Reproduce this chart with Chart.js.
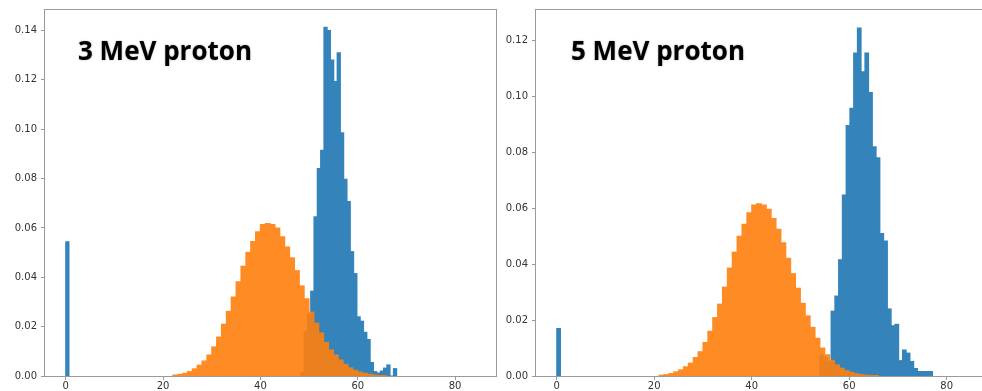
<!DOCTYPE html>
<html><head><meta charset="utf-8">
<script src="https://cdn.jsdelivr.net/npm/chart.js@4"></script>
<style>
html,body{margin:0;padding:0;background:#fff;overflow:hidden;width:982px;height:391px;position:relative;}
canvas{position:absolute;top:0;}
#c1{left:0;}
#c2{left:490px;}
</style></head><body>
<canvas id="c1" width="500" height="391"></canvas>
<canvas id="c2" width="510" height="391"></canvas>
<script>
// ---- shared axis data ----
const xTicks = [0, 20, 40, 60, 80];
const xRange = [-4.25, 88.4];

// ---- left panel: 3 MeV proton ----
const leftTitle = '3 MeV proton';
const leftYTicks = [0, 0.02, 0.04, 0.06, 0.08, 0.10, 0.12, 0.14];
const leftYMax = 0.1483;
const leftBlueBinWidth = 0.68;
const leftBlueZeroBin = 0.0544;          // bin 0
const leftBlueFirstBin = 71;             // bins 71..99
const leftBlue = [0.0015, 0.018, 0.025, 0.0344, 0.0645, 0.0841, 0.0915, 0.1413, 0.1400, 0.1280,
                  0.1193, 0.1310, 0.0986, 0.0797, 0.0707, 0.0504, 0.0415, 0.0240, 0.0222, 0.0177,
                  0.0148, 0.0055, 0.0018, 0.0012, 0.0020, 0.0032, 0.0045, 0, 0.0030];
const leftOrangeFirstBin = 22;           // 1-unit bins from 22
const leftOrange = [0.0004, 0.0007, 0.0011, 0.0018, 0.0029, 0.0044, 0.0061, 0.0085, 0.0118, 0.0158,
                    0.0210, 0.0262, 0.0320, 0.0382, 0.0445, 0.0501, 0.0545, 0.0584, 0.0614, 0.0618,
                    0.0614, 0.0600, 0.0564, 0.0523, 0.0479, 0.0427, 0.0365, 0.0313, 0.0259, 0.0214,
                    0.0175, 0.0136, 0.0106, 0.0085, 0.0065, 0.0047, 0.0033, 0.0023, 0.0016, 0.0011,
                    0.0007, 0.0004, 0.0002, 0.0001];

// ---- right panel: 5 MeV proton ----
const rightTitle = '5 MeV proton';
const rightYTicks = [0, 0.02, 0.04, 0.06, 0.08, 0.10, 0.12];
const rightYMax = 0.1309;
const rightBlueBinWidth = 0.771;
const rightBlueZeroBin = 0.0170;         // bin 0
const rightBlueFirstBin = 70;            // bins 70..99
const rightBlue = [0.0075, 0.0065, 0.0052, 0.0232, 0.0286, 0.0416, 0.0647, 0.0896, 0.0958, 0.1155,
                   0.1245, 0.1088, 0.1155, 0.1014, 0.0820, 0.0781, 0.0510, 0.0483, 0.0240, 0.0180,
                   0.0185, 0.0055, 0.0093, 0.0082, 0.0052, 0.0027, 0.0016, 0.0016, 0.0016, 0.0016];
const rightOrangeFirstBin = 21;
const rightOrange = [0.0003, 0.0005, 0.0009, 0.0015, 0.0022, 0.0033, 0.0046, 0.0066, 0.0087, 0.0120,
                     0.0160, 0.0209, 0.0257, 0.0318, 0.0386, 0.0443, 0.0500, 0.0543, 0.0584, 0.0612,
                     0.0616, 0.0612, 0.0596, 0.0563, 0.0525, 0.0477, 0.0421, 0.0366, 0.0314, 0.0260,
                     0.0215, 0.0174, 0.0135, 0.0100, 0.0076, 0.0056, 0.0040, 0.0028, 0.0019, 0.0013,
                     0.0008, 0.0005, 0.0003, 0.0002, 0.0001];

Chart.defaults.font.family = '"DejaVu Sans", sans-serif';
Chart.defaults.font.size = 10;
Chart.defaults.color = '#333';

// Each histogram is drawn opaque on its own layer, then composited at alpha 0.9
// (like matplotlib's alpha), so adjacent bins show no seams.
const layerPlugin = {
  id: 'layer',
  beforeDatasetDraw(chart, args) {
    const ctrl = args.meta.controller;
    if (!chart.$layer) chart.$layer = document.createElement('canvas');
    const L = chart.$layer;
    L.width = chart.canvas.width; L.height = chart.canvas.height;
    const lctx = L.getContext('2d');
    lctx.clearRect(0, 0, L.width, L.height);
    ctrl.$origCtx = ctrl._ctx;
    ctrl._ctx = lctx;
  },
  afterDatasetDraw(chart, args) {
    const ctrl = args.meta.controller;
    ctrl._ctx = ctrl.$origCtx;
    const ctx = chart.ctx;
    ctx.save();
    ctx.setTransform(1, 0, 0, 1, 0, 0);
    ctx.globalAlpha = 0.9;
    ctx.drawImage(chart.$layer, 0, 0);
    ctx.restore();
  }
};

const framePlugin = {
  id: 'frame',
  afterDatasetsDraw(chart, args, opts) {
    const {ctx, chartArea: a} = chart;
    ctx.save();
    ctx.strokeStyle = '#9a9a9a';
    ctx.lineWidth = 1;
    ctx.strokeRect(Math.round(a.left) - 0.5, Math.round(a.top) - 0.5,
                   Math.round(a.right - a.left) + 1, Math.round(a.bottom - a.top) + 1);
    ctx.font = 'bold 26px "Open Sans"';
    ctx.fillStyle = '#000';
    ctx.textBaseline = 'alphabetic';
    ctx.shadowColor = 'rgba(0,0,0,0.35)';
    ctx.shadowBlur = 2;
    ctx.fillText(opts.title, a.left + opts.dx, a.top + opts.dy);
    ctx.restore();
  }
};

function buildChart(id, p) {
  const blueData = [{x: 0.5 * p.blueW, y: p.blueZero}].concat(
    p.blue.map((v, i) => ({x: (p.blueFirst + i + 0.5) * p.blueW, y: v})));
  const orangeData = p.orange.map((v, i) => ({x: p.orangeFirst + i + 0.5, y: v}));
  const tickGrid = {display: true, drawOnChartArea: false, drawTicks: true, tickLength: 4, color: '#9a9a9a', offset: false};
  new Chart(document.getElementById(id), {
    type: 'bar',
    data: {datasets: [
      {data: blueData, xAxisID: 'x', yAxisID: 'y', backgroundColor: '#1f77b4', order: 2,
       barPercentage: 1, categoryPercentage: 1, borderWidth: 0, grouped: false, inflateAmount: 0.5},
      {data: orangeData, xAxisID: 'x2', yAxisID: 'y', backgroundColor: '#ff7f0e', order: 1,
       barPercentage: 1, categoryPercentage: 1, borderWidth: 0, grouped: false, inflateAmount: 0.5}
    ]},
    options: {
      responsive: false, animation: false, events: [],
      layout: {padding: {top: 6, right: p.padRight, left: 0, bottom: 0}},
      plugins: {legend: {display: false}, tooltip: {enabled: false},
                frame: {title: p.title, dx: p.textDx, dy: 50}},
      scales: {
        x: {type: 'linear', min: xRange[0], max: xRange[1], offset: false,
            afterBuildTicks: s => { s.ticks = xTicks.map(v => ({value: v})); },
            afterFit: s => { s.height = 15; },
            grid: tickGrid, border: {display: false},
            ticks: {padding: 0, maxRotation: 0, autoSkip: false, callback: v => String(v)}},
        x2: {type: 'linear', display: false, min: xRange[0], max: xRange[1], offset: false,
             afterBuildTicks: s => { s.ticks = xTicks.map(v => ({value: v})); }},
        y: {type: 'linear', min: 0, max: p.yMax,
            afterBuildTicks: s => { s.ticks = p.yTicks.map(v => ({value: v})); },
            afterFit: s => { s.width = p.axisW; },
            grid: tickGrid, border: {display: false},
            ticks: {padding: 4, callback: v => Number(v).toFixed(2)}}
      }
    },
    plugins: [layerPlugin, framePlugin]
  });
}

buildChart('c1', {title: leftTitle, yTicks: leftYTicks, yMax: leftYMax, blueW: leftBlueBinWidth,
  blueZero: leftBlueZeroBin, blueFirst: leftBlueFirstBin, blue: leftBlue,
  orangeFirst: leftOrangeFirstBin, orange: leftOrange, axisW: 45, padRight: 4, textDx: 33});
buildChart('c2', {title: rightTitle, yTicks: rightYTicks, yMax: rightYMax, blueW: rightBlueBinWidth,
  blueZero: rightBlueZeroBin, blueFirst: rightBlueFirstBin, blue: rightBlue,
  orangeFirst: rightOrangeFirstBin, orange: rightOrange, axisW: 46, padRight: 12.4, textDx: 35});
</script>
</body></html>
